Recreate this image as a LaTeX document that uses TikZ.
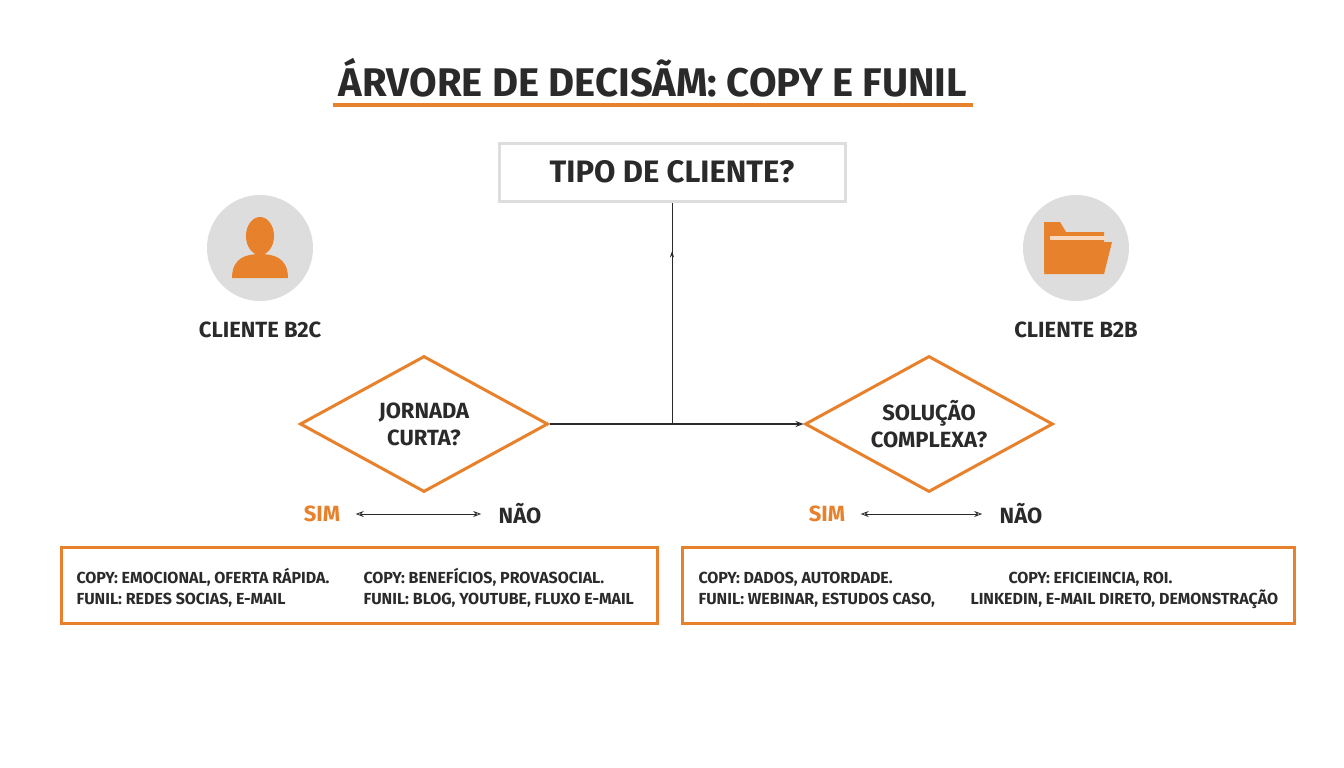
\documentclass[tikz,border=0pt]{standalone}
\usepackage{fontspec}
\setmainfont{Fira Sans}
\usetikzlibrary{shapes.geometric,arrows.meta,decorations.markings}
\definecolor{laranja}{HTML}{E8812C}
\definecolor{cinza}{HTML}{DDDDDD}
\definecolor{texto}{HTML}{2A2A2A}
\tikzset{
  rotulo/.style={font=\bfseries\fontsize{22}{24}\selectfont, text=texto},
  losango/.style={diamond, draw=laranja, line width=3pt, minimum width=248pt, minimum height=136pt, aspect=1.8, inner sep=0pt, align=center, font=\bfseries\fontsize{22}{27}\selectfont, text=texto},
  caixa/.style={draw=laranja, line width=3pt, inner sep=0pt},
  linha/.style={font=\bfseries\fontsize{16}{18}\selectfont, text=texto, anchor=base west},
}
\begin{document}
\begin{tikzpicture}[x=1pt,y=-1pt]
\useasboundingbox (0,0) rectangle (1344,768);
\fill[white] (0,0) rectangle (1344,768);

% titulo
\node[font=\bfseries\fontsize{40}{44}\selectfont, text=texto] (titulo) at (653,78) {ÁRVORE DE DECISÃM: COPY E FUNIL};
\draw[laranja, line width=4pt] (333,105) -- (973,105);

% raiz
\node[draw=cinza, line width=3pt, minimum width=346pt, minimum height=58pt, font=\bfseries\fontsize{31}{34}\selectfont, text=texto] (tipo) at (672,172) {TIPO DE CLIENTE?};

% icones
\fill[cinza] (260,248) circle (53);
\fill[cinza] (1076,248) circle (53);
\fill[laranja] (260,236) ellipse (14 and 19);
\fill[laranja] (232,278) .. controls (232,258) and (246,254) .. (260,254) .. controls (274,254) and (288,258) .. (288,278) -- cycle;
\fill[laranja] (1044,222) -- (1044,272) -- (1104,272) -- (1104,232) -- (1066,232) -- (1060,222) -- cycle;
\fill[white!70!laranja] (1050,236) rectangle (1106,240);
\fill[laranja] (1052,242) -- (1112,242) -- (1104,274) -- (1044,274) -- cycle;
\node[rotulo] (b2c) at (260,330) {CLIENTE B2C};
\node[rotulo] (b2b) at (1076,330) {CLIENTE B2B};

% decisoes
\node[losango] (jornada) at (424,424) {JORNADA\\CURTA?};
\node[losango] (solucao) at (929,424) {SOLUÇÃO\\COMPLEXA?};
\coordinate (juncao) at (672,424);
\draw[texto, line width=1pt, postaction={decorate}, decoration={markings, mark=at position 0.78 with {\arrow{Stealth[length=6pt,width=4pt]}}}] (juncao) -- (tipo.south);
\draw[texto, line width=1.2pt, -{Stealth[length=8pt,width=6pt]}] (jornada.east) -- (solucao.west);

% sim / nao
\node[rotulo, text=laranja] (sim1) at (322,514) {SIM};
\node[rotulo] (nao1) at (520,514) {NÃO};
\node[rotulo, text=laranja] (sim2) at (827,514) {SIM};
\node[rotulo] (nao2) at (1021,514) {NÃO};
\draw[texto, line width=0.8pt, {Stealth[length=8pt,width=6pt,open]}-{Stealth[length=8pt,width=6pt,open]}] (sim1.east) ++(12,0) -- ([xshift=-14pt]nao1.west);
\draw[texto, line width=0.8pt, {Stealth[length=8pt,width=6pt,open]}-{Stealth[length=8pt,width=6pt,open]}] (sim2.east) ++(12,0) -- ([xshift=-14pt]nao2.west);

% resultados
\draw[caixa] (61,547) rectangle (657,623);
\draw[caixa] (682,547) rectangle (1294,623);
\node[linha] (l1) at (73,583) {COPY: EMOCIONAL, OFERTA RÁPIDA.};
\node[linha] (l2) at (73,604) {FUNIL: REDES SOCIAS, E-MAIL};
\node[linha] (l3) at (360,583) {COPY: BENEFÍCIOS, PROVASOCIAL.};
\node[linha] (l4) at (360,604) {FUNIL: BLOG, YOUTUBE, FLUXO E-MAIL};
\node[linha] (r1) at (695,583) {COPY: DADOS, AUTORDADE.};
\node[linha] (r2) at (695,604) {FUNIL: WEBINAR, ESTUDOS CASO,};
\node[linha] (r3) at (1005,583) {COPY: EFICIEINCIA, ROI.};
\node[linha] (r4) at (967,604) {LINKEDIN, E-MAIL DIRETO, DEMONSTRAÇÃO};
\end{tikzpicture}
\end{document}
